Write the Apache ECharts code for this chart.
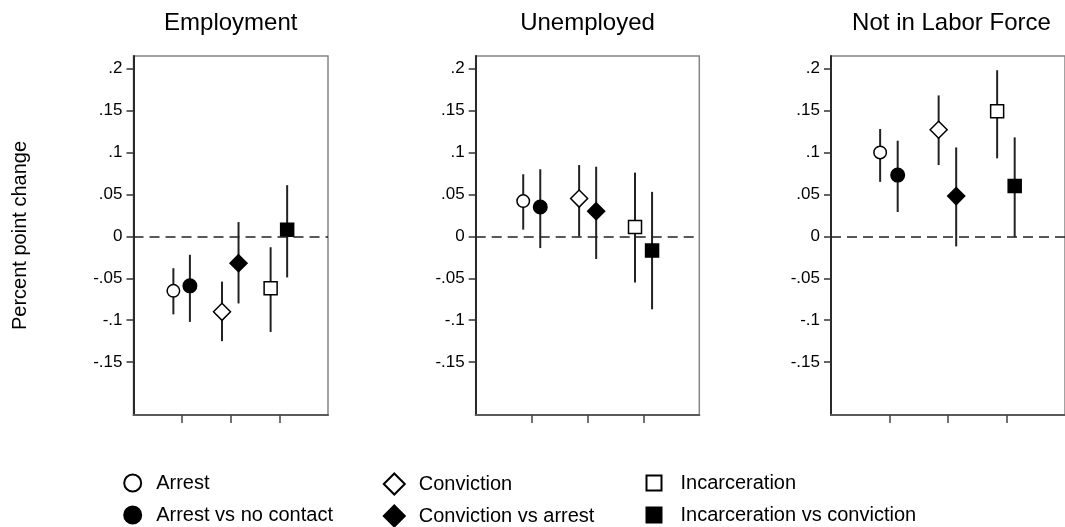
<!DOCTYPE html>
<html>
<head>
<meta charset="utf-8">
<script src="https://cdn.jsdelivr.net/npm/echarts@6/dist/echarts.min.js"></script>
<style>
  html, body { margin: 0; background: #fff; }
  #chart { width: 1065px; height: 527px; }
</style>
</head>
<body>
<div id="chart"></div>
<script>
const panelTitles = ['Employment', 'Unemployed', 'Not in Labor Force']
const measures = ['Arrest', 'Arrest vs no contact', 'Conviction', 'Conviction vs arrest', 'Incarceration', 'Incarceration vs conviction']
const groupOf = [1, 1, 2, 2, 3, 3]

// point estimates with lower / upper CI bounds, one set per panel
const empEst = [-0.065, -0.059, -0.090, -0.032, -0.062, 0.008]
const empLo = [-0.093, -0.102, -0.125, -0.080, -0.114, -0.049]
const empHi = [-0.038, -0.022, -0.054, 0.017, -0.013, 0.061]

const unempEst = [0.042, 0.035, 0.045, 0.030, 0.011, -0.017]
const unempLo = [0.008, -0.014, 0.000, -0.027, -0.055, -0.087]
const unempHi = [0.074, 0.080, 0.085, 0.083, 0.076, 0.053]

const nilfEst = [0.100, 0.073, 0.127, 0.048, 0.149, 0.060]
const nilfLo = [0.065, 0.029, 0.085, -0.012, 0.093, -0.001]
const nilfHi = [0.128, 0.114, 0.168, 0.106, 0.198, 0.118]

const yTicks = [-0.15, -0.1, -0.05, 0, 0.05, 0.1, 0.15, 0.2]
const xTicks = [1, 2, 3]

const panels = [
  { est: empEst, lo: empLo, hi: empHi },
  { est: unempEst, lo: unempLo, hi: unempHi },
  { est: nilfEst, lo: nilfLo, hi: nilfHi },
]

// layout / styling
const FONT = 'Liberation Sans, Arial, Helvetica, sans-serif'
const gridBoxes = [
  { left: 133.5, width: 194.5 },
  { left: 475.7, width: 223.6 },
  { left: 831, width: 241 },
]
const pairOffset = [[-0.18, 0.16], [-0.15, 0.155], [-0.16, 0.14]]
const symbols = ['circle', 'circle', 'diamond', 'diamond', 'rect', 'rect']
const symbolSizes = [12.5, 13.5, 17, 17, 13, 13]
const filled = [false, true, false, true, false, true]

const fmtY = (v) => (v === 0 ? '0' : String(v).replace('0.', '.'))

const grid = gridBoxes.map((g) => ({
  left: g.left, width: g.width, top: 56, height: 359,
  show: true, borderColor: '#858585', borderWidth: 1.5,
}))

const xAxis = gridBoxes.map((_, p) => ({
  type: 'value', gridIndex: p, min: 0, max: 4,
  axisLine: { show: true, onZero: false, lineStyle: { color: '#5a5a5a', width: 2 } },
  axisTick: { show: true, customValues: xTicks, length: 8, lineStyle: { color: '#444', width: 1.5 } },
  axisLabel: { show: false },
  splitLine: { show: false },
}))

const yAxis = gridBoxes.map((_, p) => ({
  type: 'value', gridIndex: p, min: -0.213, max: 0.215,
  axisLine: { show: true, onZero: false, lineStyle: { color: '#2a2a2a', width: 2 } },
  axisTick: { show: true, customValues: yTicks, length: 7, lineStyle: { color: '#333', width: 1.5 } },
  axisLabel: { customValues: yTicks, formatter: fmtY, fontSize: 17, color: '#000', margin: 11, fontFamily: FONT },
  splitLine: { show: false },
  name: p === 0 ? 'Percent point change' : '',
  nameLocation: 'middle', nameGap: 103,
  nameTextStyle: { fontSize: 20, color: '#000', fontFamily: FONT },
}))

const series = []
panels.forEach((pd, p) => {
  const xs = measures.map((_, i) => groupOf[i] + pairOffset[p][i % 2])
  series.push({
    type: 'custom', xAxisIndex: p, yAxisIndex: p, silent: true, z: 2,
    data: measures.map((_, i) => [xs[i], pd.lo[i], pd.hi[i]]),
    encode: { x: 0, y: [1, 2] },
    renderItem: (params, api) => {
      const a = api.coord([api.value(0), api.value(1)])
      const b = api.coord([api.value(0), api.value(2)])
      return { type: 'line', shape: { x1: a[0], y1: a[1], x2: b[0], y2: b[1] }, style: { stroke: '#222', lineWidth: 2 } }
    },
    markLine: {
      silent: true, symbol: 'none', label: { show: false },
      lineStyle: { type: [10, 6], color: '#222', width: 1.5 },
      data: [{ yAxis: 0 }],
    },
  })
  measures.forEach((m, i) => {
    series.push({
      type: 'scatter', name: m, xAxisIndex: p, yAxisIndex: p, z: 3,
      symbol: symbols[i], symbolSize: symbolSizes[i],
      itemStyle: { color: filled[i] ? '#000' : '#fff', borderColor: '#000', borderWidth: 1.5, opacity: 1 },
      data: [[xs[i], pd.est[i]]],
    })
  })
})

const title = panelTitles.map((t, p) => ({
  text: t, left: gridBoxes[p].left + gridBoxes[p].width / 2, top: 11, textAlign: 'center', padding: 0,
  textStyle: { fontSize: 24, fontWeight: 'normal', color: '#000', fontFamily: FONT },
}))

// legend: three vertical columns, row centres at y 483 and 515
const legendCols = [
  { names: [measures[0], measures[1]], left: 123.2, size: 17, pad: 10, gap: 12 },
  { names: [measures[2], measures[3]], left: 382.8, size: 21, pad: 9, gap: 9 },
  { names: [measures[4], measures[5]], left: 645.5, size: 15, pad: 14, gap: 12 },
]
const legend = legendCols.map((c) => ({
  data: c.names, orient: 'vertical', left: c.left, top: 483 - Math.max(c.size, 20) / 2, padding: 0,
  height: 80, itemWidth: c.size, itemHeight: c.size, itemGap: c.gap, selectedMode: false,
  textStyle: { fontSize: 20, color: '#000', fontFamily: FONT, lineHeight: 20, padding: [0, 0, 0, c.pad] },
}))

const chart = echarts.init(document.getElementById('chart'))
chart.setOption({ animation: false, backgroundColor: '#fff', title, legend, grid, xAxis, yAxis, series })
</script>
</body>
</html>
